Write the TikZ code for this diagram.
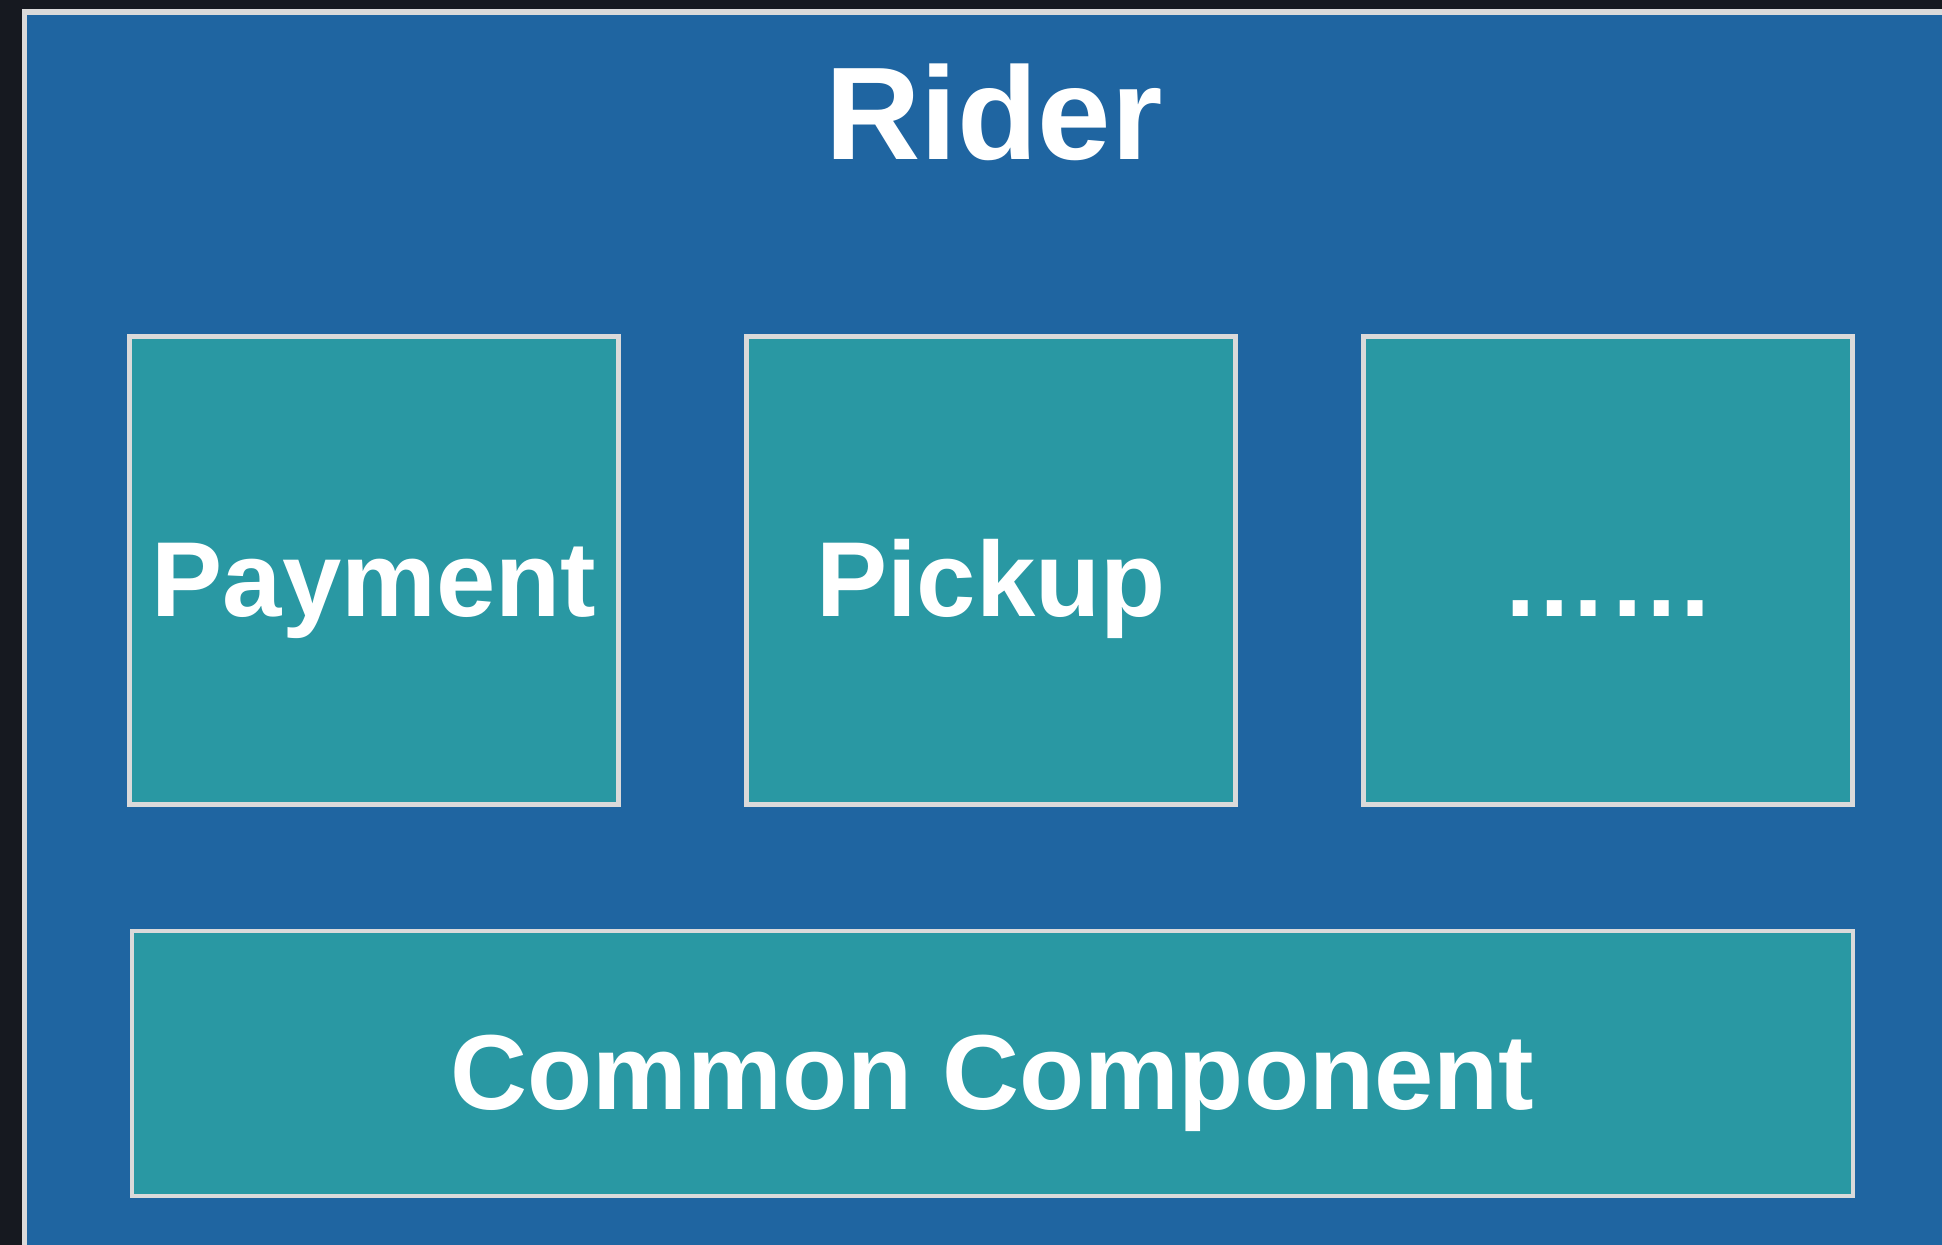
\documentclass[tikz,border=0pt]{standalone}
\usepackage{fontspec}
\setmainfont{Liberation Sans}
\usetikzlibrary{positioning}
\definecolor{pagedark}{HTML}{161920}
\definecolor{riderblue}{HTML}{1F65A1}
\definecolor{moduleteal}{HTML}{2998A3}
\definecolor{edgegray}{HTML}{DADADA}
\begin{document}
\begin{tikzpicture}[x=0.5pt, y=-0.5pt,
  frame/.style={draw=edgegray, line width=2.75pt, fill=riderblue},
  module/.style={shape=rectangle, draw=edgegray, line width=2.4pt, fill=moduleteal,
    text=white, font=\bfseries\fontsize{53.3}{60}\selectfont,
    text height=46pt, text depth=0pt, inner sep=0pt,
    minimum width=244.5pt, minimum height=234pt},
  title/.style={text=white, font=\bfseries\fontsize{66}{72}\selectfont, anchor=base, inner sep=0pt}]
\useasboundingbox (0,0) rectangle (1942,1245);
\fill[pagedark] (0,0) rectangle (1942,1245);
\clip (0,0) rectangle (1942,1245);
\draw[frame] (24.5,12.25) rectangle (1990,1290);
\node[title] (rider) at (994,160) {Rider};
\node[module] (payment) at (374,570.4) {Payment};
\node[module, right=61.6pt of payment] (pickup) {Pickup};
\node[module, right=61.6pt of pickup] (more) {……};
\node[module, minimum width=860.5pt, minimum height=132.5pt] (common) at (992.5,1063.5) {Common Component};
\end{tikzpicture}
\end{document}
